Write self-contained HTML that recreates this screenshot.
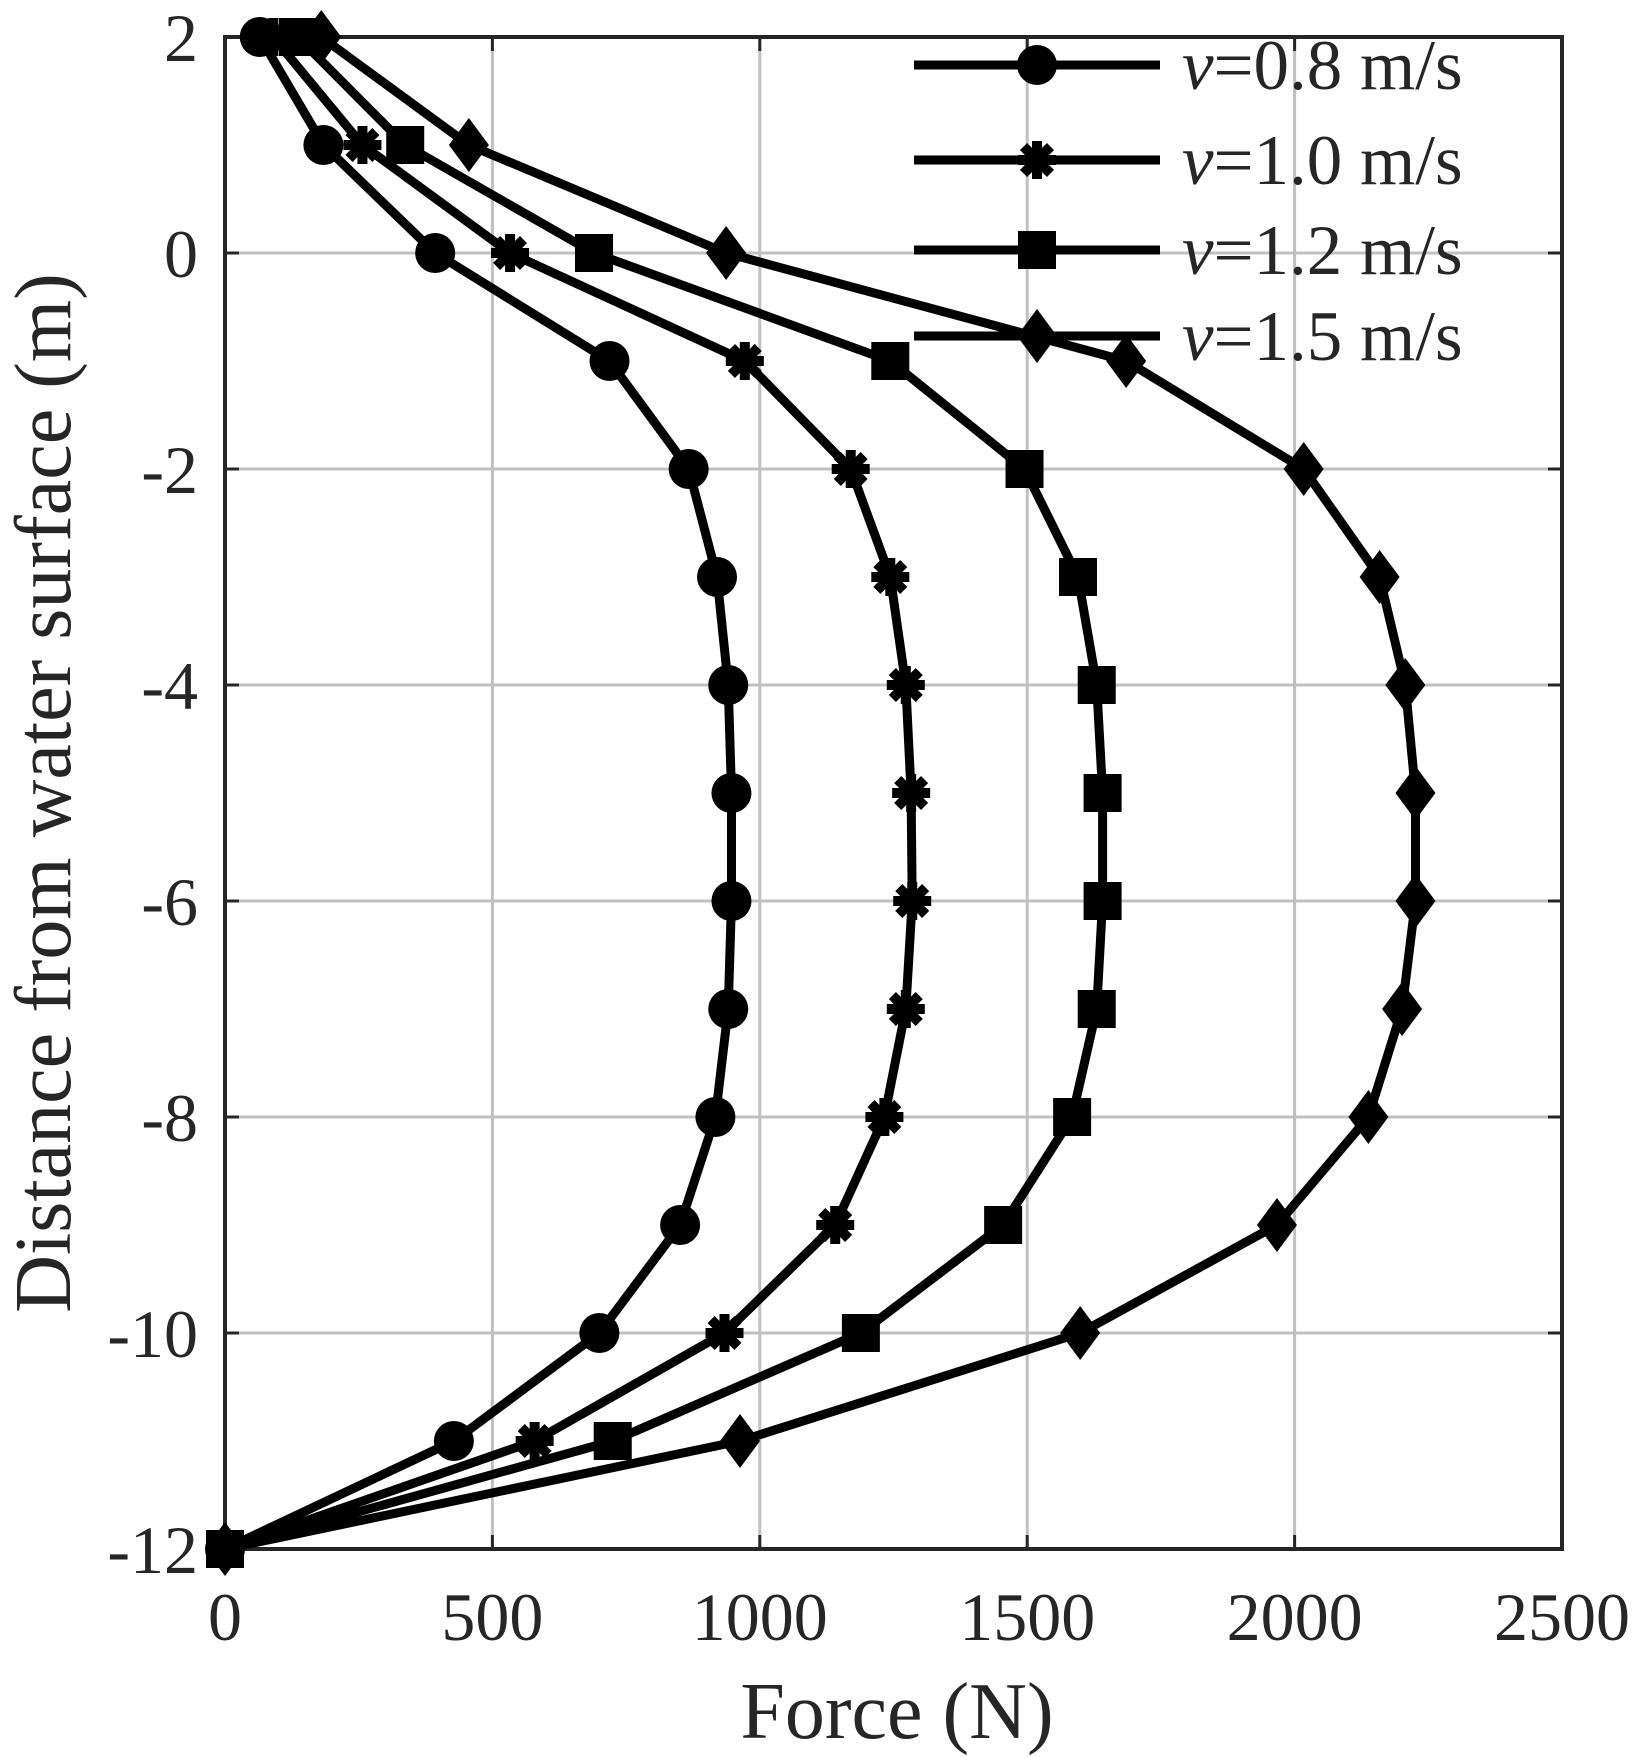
<!DOCTYPE html>
<html><head><meta charset="utf-8"><style>
html,body{margin:0;padding:0;background:#fff;}
svg{display:block;}
text{font-family:"Liberation Serif",serif;fill:#262626;}
</style></head><body>
<svg id="s" width="1641" height="1757" viewBox="0 0 1641 1757" xmlns="http://www.w3.org/2000/svg"></svg>
<script>
const L=225,R=1562,T=37,B=1549;
const X=v=>L+v*(R-L)/2500, Y=v=>T+(2-v)*(B-T)/14;
let s='';
for(let v=500;v<2500;v+=500) s+=`<line x1="${X(v)}" y1="${T}" x2="${X(v)}" y2="${B}" stroke="#c0c0c0" stroke-width="3"/>`;
for(let v=0;v>-12;v-=2) s+=`<line x1="${L}" y1="${Y(v)}" x2="${R}" y2="${Y(v)}" stroke="#c0c0c0" stroke-width="3"/>`;
for(let v=0;v<=2500;v+=500){s+=`<line x1="${X(v)}" y1="${B}" x2="${X(v)}" y2="${B-14}" stroke="#262626" stroke-width="3"/><line x1="${X(v)}" y1="${T}" x2="${X(v)}" y2="${T+14}" stroke="#262626" stroke-width="3"/>`;
 s+=`<text x="${X(v)}" y="1640" font-size="68" text-anchor="middle">${v}</text>`;}
for(let v=2;v>=-12;v-=2){s+=`<line x1="${L}" y1="${Y(v)}" x2="${L+14}" y2="${Y(v)}" stroke="#262626" stroke-width="3"/><line x1="${R}" y1="${Y(v)}" x2="${R-14}" y2="${Y(v)}" stroke="#262626" stroke-width="3"/>`;
 s+=`<text x="198" y="${Y(v)+24}" font-size="68" text-anchor="end">${v}</text>`;}
s+=`<rect x="${L}" y="${T}" width="${R-L}" height="${B-T}" fill="none" stroke="#262626" stroke-width="4"/>`;
s+=`<text x="897" y="1738" font-size="80" text-anchor="middle">Force (N)</text>`;
s+=`<text transform="translate(70,793) rotate(-90)" font-size="80" text-anchor="middle">Distance from water surface (m)</text>`;
const ys=[2,1,0,-1,-2,-3,-4,-5,-6,-7,-8,-9,-10,-11,-12];
const D=[
[65,184,393,719,867,920,941,947,947,941,917,851,700,428,0],
[90,257,533,972,1170,1244,1273,1283,1285,1273,1233,1141,934,579,0],
[136,337,690,1244,1495,1595,1630,1641,1641,1630,1584,1455,1189,725,0],
[180,456,937,1685,2017,2159,2207,2226,2226,2201,2138,1967,1599,963,0]];
function mk(t,x,y){
 if(t==0) return `<circle cx="${x}" cy="${y}" r="20" fill="#000"/>`;
 if(t==2) return `<rect x="${x-19}" y="${y-19}" width="38" height="38" fill="#000"/>`;
 if(t==3) return `<polygon points="${x},${y-27} ${x+20},${y} ${x},${y+27} ${x-20},${y}" fill="#000"/>`;
 let r='';for(let a=0;a<4;a++){const an=a*Math.PI/4;r+=`<line x1="${x-19*Math.cos(an)}" y1="${y-19*Math.sin(an)}" x2="${x+19*Math.cos(an)}" y2="${y+19*Math.sin(an)}" stroke="#000" stroke-width="10"/>`;}return r;}
D.forEach((d,t)=>{
 const p=d.map((v,i)=>`${X(v).toFixed(1)},${Y(ys[i]).toFixed(1)}`).join(' ');
 s+=`<polyline points="${p}" fill="none" stroke="#000" stroke-width="9" stroke-linejoin="round"/>`;
 d.forEach((v,i)=>s+=mk(t,X(v),Y(ys[i])));
});
const lab=['0.8','1.0','1.2','1.5'],ly=[65,160,250,336];
ly.forEach((y,t)=>{
 s+=`<line x1="914" y1="${y}" x2="1160" y2="${y}" stroke="#000" stroke-width="9"/>`+mk(t,1037,y);
 s+=`<text x="1182" y="${y+24}" font-size="71"><tspan font-style="italic">v</tspan>=${lab[t]} m/s</text>`;
});
document.getElementById('s').innerHTML=s;
</script>
</body></html>
